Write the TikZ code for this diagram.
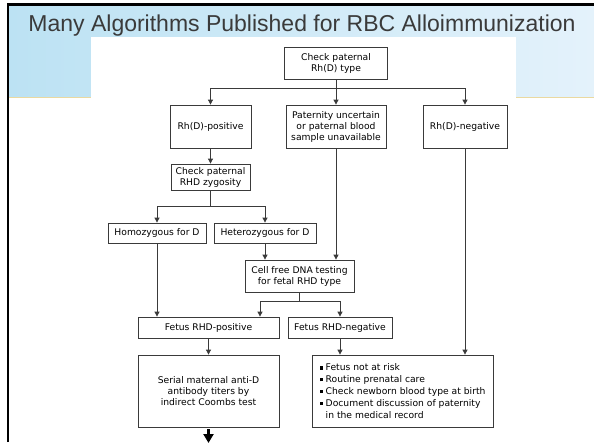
\documentclass[tikz,border=0pt]{standalone}
\usepackage{fontspec}
\setmainfont{DejaVu Sans}
\newfontfamily\titlefont{Liberation Sans}
\usetikzlibrary{arrows.meta}
\definecolor{linegray}{HTML}{3A3A3A}
\definecolor{skyA}{HTML}{BCE2F3}
\definecolor{skyB}{HTML}{E4F2FB}
\definecolor{rulegold}{HTML}{EAD9A0}
\definecolor{titlegray}{HTML}{3A3A3A}
\newcommand{\sqbullet}{\raisebox{1.3pt}{\rule{3.2pt}{3.2pt}}\hspace{3pt}}
\tikzset{
  line/.style={draw=linegray, line width=0.8pt},
  link/.style={line, -{Triangle[length=5pt,width=5pt]}},
  box/.style={draw=linegray, line width=0.8pt, fill=white, align=center, inner sep=1pt,
    text=black, font=\fontsize{9.2}{11}\selectfont},
}

\begin{document}
\begin{tikzpicture}[x=1pt,y=-1pt]
\useasboundingbox (0,0) rectangle (594,442);
% slide
\fill[white] (0,0) rectangle (594,442);
\shade[left color=skyA, right color=skyB] (9,6) rectangle (594,97);
\draw[rulegold, line width=1pt] (9,97.5) -- (594,97.5);
\draw[black, line width=2.5pt] (8,442) -- (8,4.25) -- (594,4.25);
\node[font=\titlefont\fontsize{23}{23}\selectfont, text=titlegray, anchor=base] (title) at (302,31)
  {Many Algorithms Published for RBC Alloimmunization};
\fill[white] (91,37) rectangle (516,442);

% boxes
\node[box, minimum width=103pt, minimum height=32pt] (top) at (336,63) {Check paternal\\Rh(D) type};
\node[box, minimum width=81pt, minimum height=43pt] (pos) at (210.5,126.5) {Rh(D)-positive};
\node[box, minimum width=100pt, minimum height=43pt] (unc) at (336,126.5)
  {Paternity uncertain\\or paternal blood\\sample unavailable};
\node[box, minimum width=84pt, minimum height=43pt] (neg) at (465,126.5) {Rh(D)-negative};
\node[box, minimum width=79pt, minimum height=26pt] (zyg) at (210.5,177) {Check paternal\\RHD zygosity};
\node[box, minimum width=98pt, minimum height=20pt] (homo) at (157,233) {Homozygous for D};
\node[box, minimum width=102pt, minimum height=20pt] (hetero) at (265,233) {Heterozygous for D};
\node[box, minimum width=109pt, minimum height=32pt] (cfd) at (299.5,276)
  {Cell free DNA testing\\for fetal RHD type};
\node[box, minimum width=141pt, minimum height=21pt] (fpos) at (208.5,327.5) {Fetus RHD-positive};
\node[box, minimum width=104pt, minimum height=21pt] (fneg) at (340,327.5) {Fetus RHD-negative};
\node[box, minimum width=141pt, minimum height=72pt] (serial) at (208.5,391)
  {Serial maternal anti-D\\antibody titers by\\indirect Coombs test};
\node[box, minimum width=181pt, minimum height=72pt, align=left, font=\fontsize{9.2}{11.8}\selectfont]
  (care) at (402.5,391)
  {\sqbullet Fetus not at risk\\
   \sqbullet Routine prenatal care\\
   \sqbullet Check newborn blood type at birth\\
   \sqbullet Document discussion of paternity\\
   \phantom{\sqbullet}in the medical record};

% connectors
\coordinate (split1) at (336,88);
\draw[line] (top) -- (split1);
\draw[line] (pos |- split1) -- (neg |- split1);
\draw[link] (pos |- split1) -- (pos);
\draw[link] (split1) -- (unc);
\draw[link] (neg |- split1) -- (neg);

\draw[link] (pos) -- (zyg);
\coordinate (split2) at (210.5,206);
\draw[line] (zyg) -- (split2);
\draw[line] (homo |- split2) -- (hetero |- split2);
\draw[link] (homo |- split2) -- (homo);
\draw[link] (hetero |- split2) -- (hetero);

\draw[link] (homo) -- (homo |- fpos.north);
\draw[link] (hetero) -- (hetero |- cfd.north);
\draw[link] (unc) -- (unc |- cfd.north);

\coordinate (split3) at (299.5,301);
\coordinate (split3l) at (260,301);
\draw[line] (cfd) -- (split3);
\draw[line] (split3l) -- (fneg |- split3);
\draw[link] (split3l) -- (split3l |- fpos.north);
\draw[link] (fneg |- split3) -- (fneg);

\draw[link] (fpos) -- (serial);
\draw[link] (fneg) -- (fneg |- care.north);
\draw[link] (neg) -- (neg |- care.north);
\coordinate (next) at (208.5,443);
\draw[draw=black, line width=2.6pt, -{Triangle[length=9pt,width=10pt]}] ([yshift=-2pt]serial.south) -- (next);
\end{tikzpicture}
\end{document}
